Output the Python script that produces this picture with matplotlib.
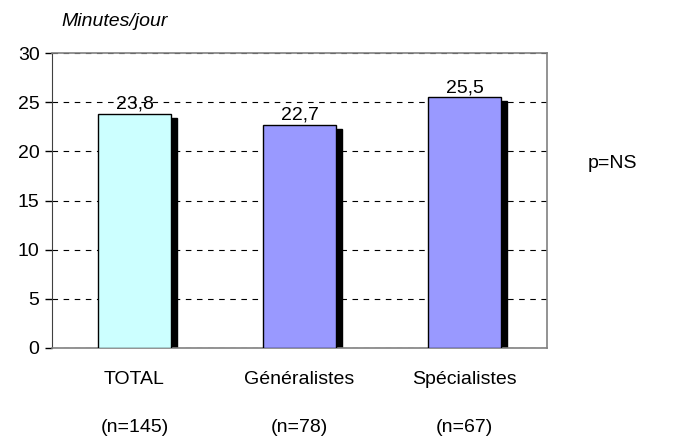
import matplotlib
matplotlib.use("Agg")
import matplotlib.pyplot as plt
import matplotlib.transforms as mtransforms

plt.rcParams['font.family'] = ['Liberation Sans', 'DejaVu Sans']

categories = ["TOTAL", "Généralistes", "Spécialistes"]
counts = ["(n=145)", "(n=78)", "(n=67)"]
values = [23.8, 22.7, 25.5]
labels = ["23,8", "22,7", "25,5"]
colors = ["#CCFFFF", "#9999FF", "#9999FF"]
yticks = [0, 5, 10, 15, 20, 25, 30]

FS = 14

fig = plt.figure(figsize=(6.93, 4.37), dpi=100)
ax = fig.add_axes([52/693, 1-348/437, 495/693, 295/437])

x = list(range(len(categories)))
w = 0.44
# shadows
shadow = mtransforms.offset_copy(ax.transData, fig=fig, x=6, y=-4, units='dots')
ax.bar(x, values, width=w, color='black', edgecolor='black', transform=shadow, zorder=2, clip_on=True)
ax.bar(x, values, width=w, color=colors, edgecolor='black', linewidth=1, zorder=3)

for xi, v, lab in zip(x, values, labels):
    ax.text(xi, v + 0.1, lab, ha='center', va='bottom', fontsize=FS, zorder=4)

ax.set_xlim(-0.5, 2.5)
ax.set_ylim(0, 30)
ax.set_yticks(yticks)
ax.set_yticklabels([str(t) for t in yticks], fontsize=FS)
ax.yaxis.grid(True, linestyle=(0, (5, 5)), color='black', linewidth=0.8)
ax.set_axisbelow(True)
ax.tick_params(axis='y', direction='out', length=5, width=1, pad=4)
ax.set_xticks([])
for s in ['top', 'right', 'bottom']:
    ax.spines[s].set_color('#808080')
    ax.spines[s].set_linewidth(1.2)
ax.spines['left'].set_color('#404040')

trans = mtransforms.blended_transform_factory(ax.transData, fig.transFigure)
for xi, c, n in zip(x, categories, counts):
    ax.text(xi, 1-379/437, c, transform=trans, ha='center', va='center', fontsize=FS)
    ax.text(xi, 1-427/437, n, transform=trans, ha='center', va='center', fontsize=FS)

fig.text(115/693, 1-21/437, "Minutes/jour", style='italic', ha='center', va='center', fontsize=FS)
fig.text(612/693, 1-163/437, "p=NS", ha='center', va='center', fontsize=FS)

fig.savefig("out.png", dpi=100)
